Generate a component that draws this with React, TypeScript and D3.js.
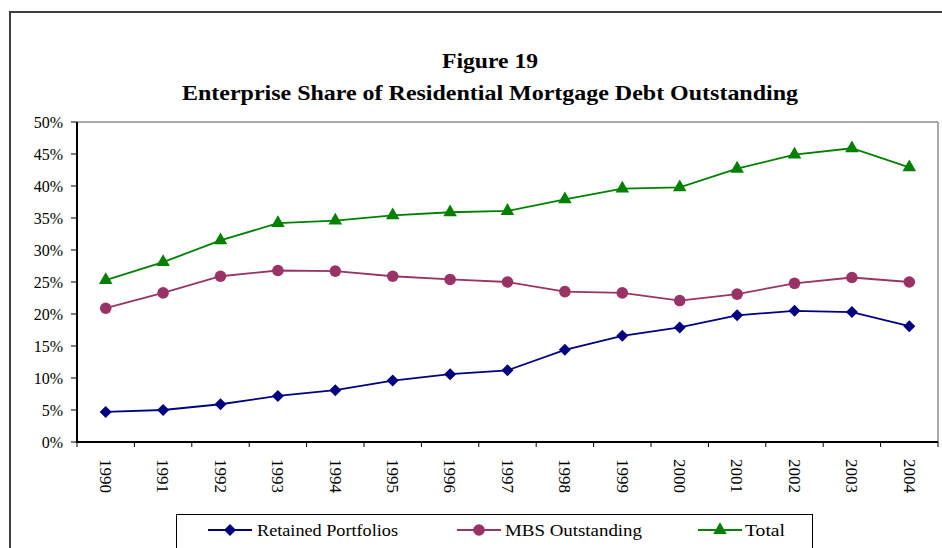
import React from "react";
import * as d3 from "d3";

const years = ["1990","1991","1992","1993","1994","1995","1996","1997","1998","1999","2000","2001","2002","2003","2004"];
const retained = [4.7, 5.0, 5.9, 7.2, 8.1, 9.6, 10.6, 11.2, 14.4, 16.6, 17.9, 19.8, 20.5, 20.3, 18.1];
const mbs = [20.9, 23.3, 25.9, 26.8, 26.7, 25.9, 25.4, 25.0, 23.5, 23.3, 22.1, 23.1, 24.8, 25.7, 25.0];
const total = [25.3, 28.1, 31.5, 34.2, 34.6, 35.4, 35.9, 36.1, 37.9, 39.6, 39.8, 42.7, 44.9, 45.9, 42.9];
const yTicks = [0, 5, 10, 15, 20, 25, 30, 35, 40, 45, 50];
const titleLines = ["Figure 19", "Enterprise Share of Residential Mortgage Debt Outstanding"];
const seriesNames = ["Retained Portfolios", "MBS Outstanding", "Total"];

const W = 942, H = 548;
const L = 77, R = 938, T = 122, B = 442;
const FONT = "'Liberation Serif', 'Times New Roman', serif";

const colors = ["#000080", "#993366", "#008000"];

function Marker({ kind, x, y, color }: { kind: number; x: number; y: number; color: string }) {
  if (kind === 0) {
    const s = 6;
    return <path d={`M${x},${y - s}L${x + s},${y}L${x},${y + s}L${x - s},${y}Z`} fill={color} />;
  }
  if (kind === 1) {
    return <circle cx={x} cy={y} r={5.8} fill={color} />;
  }
  const p = d3.symbol().type(d3.symbolTriangle).size(80)();
  return <path d={p || ""} transform={`translate(${x},${y})`} fill={color} />;
}

export default function App() {
  const x = d3.scaleBand<string>().domain(years).range([L, R]).padding(0);
  const y = d3.scaleLinear().domain([0, 50]).range([B, T]);
  const data = [retained, mbs, total];
  const line = d3
    .line<number>()
    .x((_, i) => (x(years[i]) as number) + x.bandwidth() / 2)
    .y((d) => y(d));

  const legendItems = [
    { lx: 208, tx: 257, tl: 141 },
    { lx: 457, tx: 505, tl: 137 },
    { lx: 698, tx: 745, tl: 40 },
  ];
  const titleLayout = [
    { y: 68, len: 96 },
    { y: 99.5, len: 616 },
  ];

  return (
    <svg width={W} height={H} style={{ position: "absolute", left: 0, top: 0, background: "#fff" }}>
      <rect x={0} y={0} width={W} height={H} fill="#fff" />
      <rect x={10} y={12} width={W + 20} height={H + 20} fill="none" stroke="#404040" strokeWidth={2} />
      {titleLines.map((t, i) => (
        <text
          key={i}
          x={490}
          y={titleLayout[i].y}
          textAnchor="middle"
          fontFamily={FONT}
          fontWeight="bold"
          fontSize={22}
          fill="#000"
          textLength={titleLayout[i].len}
          lengthAdjust="spacingAndGlyphs"
        >
          {t}
        </text>
      ))}
      {/* plot frame */}
      <line x1={L} y1={T} x2={R} y2={T} stroke="#555" strokeWidth={1} />
      <line x1={R} y1={T} x2={R} y2={B} stroke="#555" strokeWidth={1} />
      {/* y axis */}
      {yTicks.map((t) => (
        <g key={t}>
          <line x1={L - 6} x2={L} y1={y(t)} y2={y(t)} stroke="#000" strokeWidth={1} />
          <text x={63} y={y(t)} dy="0.35em" textAnchor="end" fontFamily={FONT} fontSize={16} fill="#000">
            {t}%
          </text>
        </g>
      ))}
      <line x1={L} y1={T} x2={L} y2={B} stroke="#000" strokeWidth={2} />
      {/* x axis */}
      {years.map((yr) => (
        <line key={"t" + yr} x1={x(yr) as number} x2={x(yr) as number} y1={B} y2={B + 5} stroke="#000" strokeWidth={1} />
      ))}
      <line x1={R} x2={R} y1={B} y2={B + 5} stroke="#000" strokeWidth={1} />
      {years.map((yr) => {
        const cx = (x(yr) as number) + x.bandwidth() / 2;
        return (
          <text key={"l" + yr} transform={`translate(${cx},459) rotate(90)`} dy="0.35em" textAnchor="start" fontFamily={FONT} fontSize={16.5} fill="#000" textLength={34} lengthAdjust="spacingAndGlyphs">
            {yr}
          </text>
        );
      })}
      <line x1={L - 1} x2={R} y1={B} y2={B} stroke="#000" strokeWidth={2} />
      {/* series */}
      {data.map((s, k) => (
        <g key={k}>
          <path d={line(s) || ""} fill="none" stroke={colors[k]} strokeWidth={1.8} />
          {s.map((v, i) => (
            <Marker key={i} kind={k} x={(x(years[i]) as number) + x.bandwidth() / 2} y={y(v)} color={colors[k]} />
          ))}
        </g>
      ))}
      {/* legend */}
      <rect x={176.5} y={514.5} width={636} height={50} fill="#fff" stroke="#000" strokeWidth={1} />
      {legendItems.map((it, k) => (
        <g key={k}>
          <line x1={it.lx} x2={it.lx + 44} y1={530} y2={530} stroke={colors[k]} strokeWidth={1.8} />
          <Marker kind={k} x={it.lx + 22} y={530} color={colors[k]} />
          <text x={it.tx} y={530} dy="0.35em" fontFamily={FONT} fontSize={16} fill="#000" textLength={it.tl} lengthAdjust="spacingAndGlyphs">
            {seriesNames[k]}
          </text>
        </g>
      ))}
    </svg>
  );
}
